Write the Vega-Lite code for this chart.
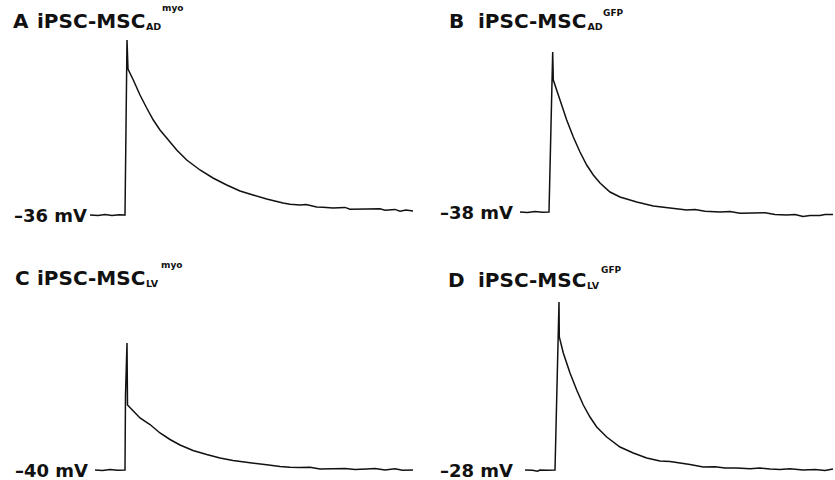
{
  "$schema": "https://vega.github.io/schema/vega-lite/v6.json",
  "padding": 0,
  "spacing": 0,
  "background": "white",
  "config": {"view": {"stroke": null}, "concat": {"spacing": 0}},
  "datasets": {
    "rows": [
      {"panel": "A", "kind": "trace", "t": 180, "v": -36},
      {"panel": "A", "kind": "trace", "t": 196, "v": -36.1},
      {"panel": "A", "kind": "trace", "t": 210, "v": -35.9},
      {"panel": "A", "kind": "trace", "t": 224, "v": -36.1},
      {"panel": "A", "kind": "trace", "t": 238, "v": -35.95},
      {"panel": "A", "kind": "trace", "t": 250, "v": -36},
      {"panel": "A", "kind": "trace", "t": 254, "v": 7.75},
      {"panel": "A", "kind": "trace", "t": 256, "v": 0.5},
      {"panel": "A", "kind": "trace", "t": 266.6, "v": -2.25},
      {"panel": "A", "kind": "trace", "t": 280, "v": -6},
      {"panel": "A", "kind": "trace", "t": 293.4, "v": -9.25},
      {"panel": "A", "kind": "trace", "t": 306.6, "v": -12.25},
      {"panel": "A", "kind": "trace", "t": 320, "v": -14.75},
      {"panel": "A", "kind": "trace", "t": 333.4, "v": -16.75},
      {"panel": "A", "kind": "trace", "t": 353.4, "v": -19.75},
      {"panel": "A", "kind": "trace", "t": 373.4, "v": -22.25},
      {"panel": "A", "kind": "trace", "t": 400, "v": -24.75},
      {"panel": "A", "kind": "trace", "t": 426, "v": -26.75},
      {"panel": "A", "kind": "trace", "t": 453.4, "v": -28.5},
      {"panel": "A", "kind": "trace", "t": 480, "v": -30},
      {"panel": "A", "kind": "trace", "t": 506, "v": -31},
      {"panel": "A", "kind": "trace", "t": 533.4, "v": -32},
      {"panel": "A", "kind": "trace", "t": 566, "v": -33},
      {"panel": "A", "kind": "trace", "t": 580, "v": -33.3},
      {"panel": "A", "kind": "trace", "t": 600, "v": -33.5},
      {"panel": "A", "kind": "trace", "t": 612, "v": -33.4},
      {"panel": "A", "kind": "trace", "t": 633.4, "v": -34},
      {"panel": "A", "kind": "trace", "t": 646, "v": -34.05},
      {"panel": "A", "kind": "trace", "t": 666, "v": -34.25},
      {"panel": "A", "kind": "trace", "t": 690, "v": -34.1},
      {"panel": "A", "kind": "trace", "t": 700, "v": -34.55},
      {"panel": "A", "kind": "trace", "t": 733.4, "v": -34.5},
      {"panel": "A", "kind": "trace", "t": 760, "v": -34.45},
      {"panel": "A", "kind": "trace", "t": 770, "v": -34.8},
      {"panel": "A", "kind": "trace", "t": 790, "v": -34.6},
      {"panel": "A", "kind": "trace", "t": 800, "v": -35.05},
      {"panel": "A", "kind": "trace", "t": 812, "v": -34.75},
      {"panel": "A", "kind": "trace", "t": 826, "v": -35},
      {"panel": "A", "kind": "main", "t": 26, "v": 10.75, "text": "A"},
      {"panel": "A", "kind": "main", "t": 74, "v": 10.75, "text": "iPSC-MSC"},
      {"panel": "A", "kind": "sub", "t": 292, "v": 10.375, "text": "AD"},
      {"panel": "A", "kind": "sup", "t": 324, "v": 15.125, "text": "myo"},
      {"panel": "A", "kind": "label", "t": 28, "v": -37.65, "text": "–36 mV"},

      {"panel": "B", "kind": "trace", "t": 180, "v": -38},
      {"panel": "B", "kind": "trace", "t": 195, "v": -38.1},
      {"panel": "B", "kind": "trace", "t": 210, "v": -37.9},
      {"panel": "B", "kind": "trace", "t": 225, "v": -38.05},
      {"panel": "B", "kind": "trace", "t": 238, "v": -38},
      {"panel": "B", "kind": "trace", "t": 245.4, "v": 2},
      {"panel": "B", "kind": "trace", "t": 246.6, "v": -5},
      {"panel": "B", "kind": "trace", "t": 260, "v": -10},
      {"panel": "B", "kind": "trace", "t": 273.4, "v": -15},
      {"panel": "B", "kind": "trace", "t": 286.6, "v": -19.25},
      {"panel": "B", "kind": "trace", "t": 300, "v": -23},
      {"panel": "B", "kind": "trace", "t": 313.4, "v": -26.25},
      {"panel": "B", "kind": "trace", "t": 326.6, "v": -28.75},
      {"panel": "B", "kind": "trace", "t": 340, "v": -30.75},
      {"panel": "B", "kind": "trace", "t": 360, "v": -33},
      {"panel": "B", "kind": "trace", "t": 380, "v": -34.25},
      {"panel": "B", "kind": "trace", "t": 413.4, "v": -35.5},
      {"panel": "B", "kind": "trace", "t": 446.6, "v": -36.5},
      {"panel": "B", "kind": "trace", "t": 480, "v": -37},
      {"panel": "B", "kind": "trace", "t": 513.4, "v": -37.5},
      {"panel": "B", "kind": "trace", "t": 530, "v": -37.4},
      {"panel": "B", "kind": "trace", "t": 550, "v": -37.8},
      {"panel": "B", "kind": "trace", "t": 580, "v": -38},
      {"panel": "B", "kind": "trace", "t": 600, "v": -37.9},
      {"panel": "B", "kind": "trace", "t": 620, "v": -38.3},
      {"panel": "B", "kind": "trace", "t": 646, "v": -38.25},
      {"panel": "B", "kind": "trace", "t": 670, "v": -38.2},
      {"panel": "B", "kind": "trace", "t": 690, "v": -38.6},
      {"panel": "B", "kind": "trace", "t": 713.4, "v": -38.75},
      {"panel": "B", "kind": "trace", "t": 730, "v": -38.6},
      {"panel": "B", "kind": "trace", "t": 746, "v": -39.1},
      {"panel": "B", "kind": "trace", "t": 760, "v": -38.9},
      {"panel": "B", "kind": "trace", "t": 780, "v": -38.9},
      {"panel": "B", "kind": "trace", "t": 790, "v": -38.6},
      {"panel": "B", "kind": "trace", "t": 806, "v": -38.6},
      {"panel": "B", "kind": "main", "t": 38, "v": 8, "text": "B"},
      {"panel": "B", "kind": "main", "t": 96, "v": 8, "text": "iPSC-MSC"},
      {"panel": "B", "kind": "sub", "t": 315, "v": 7.5, "text": "AD"},
      {"panel": "B", "kind": "sup", "t": 346, "v": 11, "text": "GFP"},
      {"panel": "B", "kind": "label", "t": 20, "v": -39.65, "text": "–38 mV"},

      {"panel": "C", "kind": "trace", "t": 190, "v": -40},
      {"panel": "C", "kind": "trace", "t": 205, "v": -40.1},
      {"panel": "C", "kind": "trace", "t": 220, "v": -39.9},
      {"panel": "C", "kind": "trace", "t": 235, "v": -40.05},
      {"panel": "C", "kind": "trace", "t": 250, "v": -40},
      {"panel": "C", "kind": "trace", "t": 251, "v": -21.25},
      {"panel": "C", "kind": "trace", "t": 254, "v": -8.25},
      {"panel": "C", "kind": "trace", "t": 255, "v": -23.75},
      {"panel": "C", "kind": "trace", "t": 266.6, "v": -25.25},
      {"panel": "C", "kind": "trace", "t": 280, "v": -27},
      {"panel": "C", "kind": "trace", "t": 300, "v": -28.625},
      {"panel": "C", "kind": "trace", "t": 320, "v": -30.75},
      {"panel": "C", "kind": "trace", "t": 340, "v": -32.375},
      {"panel": "C", "kind": "trace", "t": 360, "v": -33.75},
      {"panel": "C", "kind": "trace", "t": 386, "v": -35.125},
      {"panel": "C", "kind": "trace", "t": 413.4, "v": -36.125},
      {"panel": "C", "kind": "trace", "t": 440, "v": -37},
      {"panel": "C", "kind": "trace", "t": 466, "v": -37.625},
      {"panel": "C", "kind": "trace", "t": 500, "v": -38.2},
      {"panel": "C", "kind": "trace", "t": 533.4, "v": -38.7},
      {"panel": "C", "kind": "trace", "t": 560, "v": -39.1},
      {"panel": "C", "kind": "trace", "t": 580, "v": -39.3},
      {"panel": "C", "kind": "trace", "t": 600, "v": -39.35},
      {"panel": "C", "kind": "trace", "t": 620, "v": -39.3},
      {"panel": "C", "kind": "trace", "t": 640, "v": -39.75},
      {"panel": "C", "kind": "trace", "t": 666, "v": -39.7},
      {"panel": "C", "kind": "trace", "t": 690, "v": -39.6},
      {"panel": "C", "kind": "trace", "t": 710, "v": -39.9},
      {"panel": "C", "kind": "trace", "t": 733.4, "v": -39.75},
      {"panel": "C", "kind": "trace", "t": 750, "v": -39.6},
      {"panel": "C", "kind": "trace", "t": 770, "v": -40},
      {"panel": "C", "kind": "trace", "t": 790, "v": -39.7},
      {"panel": "C", "kind": "trace", "t": 805, "v": -40.05},
      {"panel": "C", "kind": "trace", "t": 826, "v": -40},
      {"panel": "C", "kind": "main", "t": 30, "v": 6.25, "text": "C"},
      {"panel": "C", "kind": "main", "t": 74, "v": 6.25, "text": "iPSC-MSC"},
      {"panel": "C", "kind": "sub", "t": 292, "v": 5.875, "text": "LV"},
      {"panel": "C", "kind": "sup", "t": 322, "v": 10.625, "text": "myo"},
      {"panel": "C", "kind": "label", "t": 30, "v": -41.65, "text": "–40 mV"},

      {"panel": "D", "kind": "trace", "t": 190, "v": -28},
      {"panel": "D", "kind": "trace", "t": 205, "v": -28.05},
      {"panel": "D", "kind": "trace", "t": 215, "v": -28.3},
      {"panel": "D", "kind": "trace", "t": 220, "v": -28},
      {"panel": "D", "kind": "trace", "t": 235, "v": -28.05},
      {"panel": "D", "kind": "trace", "t": 250, "v": -28},
      {"panel": "D", "kind": "trace", "t": 258, "v": 14},
      {"panel": "D", "kind": "trace", "t": 258.6, "v": 5.25},
      {"panel": "D", "kind": "trace", "t": 266.6, "v": 1.25},
      {"panel": "D", "kind": "trace", "t": 280, "v": -3.75},
      {"panel": "D", "kind": "trace", "t": 293.4, "v": -8},
      {"panel": "D", "kind": "trace", "t": 306.6, "v": -11.75},
      {"panel": "D", "kind": "trace", "t": 320, "v": -14.75},
      {"panel": "D", "kind": "trace", "t": 333.4, "v": -17.25},
      {"panel": "D", "kind": "trace", "t": 353.4, "v": -19.75},
      {"panel": "D", "kind": "trace", "t": 380, "v": -22.25},
      {"panel": "D", "kind": "trace", "t": 406.6, "v": -23.75},
      {"panel": "D", "kind": "trace", "t": 433.4, "v": -25},
      {"panel": "D", "kind": "trace", "t": 460, "v": -25.75},
      {"panel": "D", "kind": "trace", "t": 480, "v": -25.9},
      {"panel": "D", "kind": "trace", "t": 500, "v": -26.25},
      {"panel": "D", "kind": "trace", "t": 520, "v": -26.6},
      {"panel": "D", "kind": "trace", "t": 546.6, "v": -27.25},
      {"panel": "D", "kind": "trace", "t": 570, "v": -27.2},
      {"panel": "D", "kind": "trace", "t": 590, "v": -27.5},
      {"panel": "D", "kind": "trace", "t": 613.4, "v": -27.5},
      {"panel": "D", "kind": "trace", "t": 640, "v": -27.7},
      {"panel": "D", "kind": "trace", "t": 660, "v": -27.5},
      {"panel": "D", "kind": "trace", "t": 680, "v": -27.75},
      {"panel": "D", "kind": "trace", "t": 700, "v": -27.9},
      {"panel": "D", "kind": "trace", "t": 720, "v": -27.7},
      {"panel": "D", "kind": "trace", "t": 746, "v": -28},
      {"panel": "D", "kind": "trace", "t": 770, "v": -27.9},
      {"panel": "D", "kind": "trace", "t": 790, "v": -28.1},
      {"panel": "D", "kind": "trace", "t": 806, "v": -27.75},
      {"panel": "D", "kind": "main", "t": 36, "v": 17.875, "text": "D"},
      {"panel": "D", "kind": "main", "t": 96, "v": 17.875, "text": "iPSC-MSC"},
      {"panel": "D", "kind": "sub", "t": 314, "v": 17.375, "text": "LV"},
      {"panel": "D", "kind": "sup", "t": 342, "v": 21.25, "text": "GFP"},
      {"panel": "D", "kind": "label", "t": 20, "v": -29.65, "text": "–28 mV"}
    ]
  },
  "vconcat": [
    {
      "spacing": 0,
      "hconcat": [
        {
          "width": 430, "height": 240,
          "data": {"name": "rows"},
          "transform": [{"filter": "datum.panel === 'A'"}],
          "encoding": {
            "x": {"field": "t", "type": "quantitative", "scale": {"domain": [0, 860]}, "axis": null},
            "y": {"field": "v", "type": "quantitative", "scale": {"domain": [-42.25, 17.75]}, "axis": null}
          },
          "layer": [
            {"transform": [{"filter": "datum.kind === 'trace'"}], "mark": {"type": "line", "color": "#111111", "strokeWidth": 1.5}},
            {"transform": [{"filter": "datum.kind === 'main'"}], "mark": {"type": "text", "font": "DejaVu Sans", "fontWeight": "bold", "fontSize": 20, "align": "left", "baseline": "alphabetic", "color": "#111111"}, "encoding": {"text": {"field": "text"}}},
            {"transform": [{"filter": "datum.kind === 'sub'"}], "mark": {"type": "text", "font": "DejaVu Sans", "fontWeight": "bold", "fontSize": 9.5, "align": "left", "baseline": "alphabetic", "color": "#111111"}, "encoding": {"text": {"field": "text"}}},
            {"transform": [{"filter": "datum.kind === 'sup'"}], "mark": {"type": "text", "font": "DejaVu Sans", "fontWeight": "bold", "fontSize": 9, "align": "left", "baseline": "alphabetic", "color": "#111111"}, "encoding": {"text": {"field": "text"}}},
            {"transform": [{"filter": "datum.kind === 'label'"}], "mark": {"type": "text", "font": "DejaVu Sans", "fontWeight": "bold", "fontSize": 18, "align": "left", "baseline": "alphabetic", "color": "#111111"}, "encoding": {"text": {"field": "text"}}}
          ]
        },
        {
          "width": 405, "height": 240,
          "data": {"name": "rows"},
          "transform": [{"filter": "datum.panel === 'B'"}],
          "encoding": {
            "x": {"field": "t", "type": "quantitative", "scale": {"domain": [0, 810]}, "axis": null},
            "y": {"field": "v", "type": "quantitative", "scale": {"domain": [-45, 15]}, "axis": null}
          },
          "layer": [
            {"transform": [{"filter": "datum.kind === 'trace'"}], "mark": {"type": "line", "color": "#111111", "strokeWidth": 1.5}},
            {"transform": [{"filter": "datum.kind === 'main'"}], "mark": {"type": "text", "font": "DejaVu Sans", "fontWeight": "bold", "fontSize": 20, "align": "left", "baseline": "alphabetic", "color": "#111111"}, "encoding": {"text": {"field": "text"}}},
            {"transform": [{"filter": "datum.kind === 'sub'"}], "mark": {"type": "text", "font": "DejaVu Sans", "fontWeight": "bold", "fontSize": 9.5, "align": "left", "baseline": "alphabetic", "color": "#111111"}, "encoding": {"text": {"field": "text"}}},
            {"transform": [{"filter": "datum.kind === 'sup'"}], "mark": {"type": "text", "font": "DejaVu Sans", "fontWeight": "bold", "fontSize": 9, "align": "left", "baseline": "alphabetic", "color": "#111111"}, "encoding": {"text": {"field": "text"}}},
            {"transform": [{"filter": "datum.kind === 'label'"}], "mark": {"type": "text", "font": "DejaVu Sans", "fontWeight": "bold", "fontSize": 18, "align": "left", "baseline": "alphabetic", "color": "#111111"}, "encoding": {"text": {"field": "text"}}}
          ]
        }
      ]
    },
    {
      "spacing": 0,
      "hconcat": [
        {
          "width": 430, "height": 240,
          "data": {"name": "rows"},
          "transform": [{"filter": "datum.panel === 'C'"}],
          "encoding": {
            "x": {"field": "t", "type": "quantitative", "scale": {"domain": [0, 860]}, "axis": null},
            "y": {"field": "v", "type": "quantitative", "scale": {"domain": [-42.5, 17.5]}, "axis": null}
          },
          "layer": [
            {"transform": [{"filter": "datum.kind === 'trace'"}], "mark": {"type": "line", "color": "#111111", "strokeWidth": 1.5}},
            {"transform": [{"filter": "datum.kind === 'main'"}], "mark": {"type": "text", "font": "DejaVu Sans", "fontWeight": "bold", "fontSize": 20, "align": "left", "baseline": "alphabetic", "color": "#111111"}, "encoding": {"text": {"field": "text"}}},
            {"transform": [{"filter": "datum.kind === 'sub'"}], "mark": {"type": "text", "font": "DejaVu Sans", "fontWeight": "bold", "fontSize": 9.5, "align": "left", "baseline": "alphabetic", "color": "#111111"}, "encoding": {"text": {"field": "text"}}},
            {"transform": [{"filter": "datum.kind === 'sup'"}], "mark": {"type": "text", "font": "DejaVu Sans", "fontWeight": "bold", "fontSize": 9, "align": "left", "baseline": "alphabetic", "color": "#111111"}, "encoding": {"text": {"field": "text"}}},
            {"transform": [{"filter": "datum.kind === 'label'"}], "mark": {"type": "text", "font": "DejaVu Sans", "fontWeight": "bold", "fontSize": 18, "align": "left", "baseline": "alphabetic", "color": "#111111"}, "encoding": {"text": {"field": "text"}}}
          ]
        },
        {
          "width": 405, "height": 240,
          "data": {"name": "rows"},
          "transform": [{"filter": "datum.panel === 'D'"}],
          "encoding": {
            "x": {"field": "t", "type": "quantitative", "scale": {"domain": [0, 810]}, "axis": null},
            "y": {"field": "v", "type": "quantitative", "scale": {"domain": [-30.5, 29.5]}, "axis": null}
          },
          "layer": [
            {"transform": [{"filter": "datum.kind === 'trace'"}], "mark": {"type": "line", "color": "#111111", "strokeWidth": 1.5}},
            {"transform": [{"filter": "datum.kind === 'main'"}], "mark": {"type": "text", "font": "DejaVu Sans", "fontWeight": "bold", "fontSize": 20, "align": "left", "baseline": "alphabetic", "color": "#111111"}, "encoding": {"text": {"field": "text"}}},
            {"transform": [{"filter": "datum.kind === 'sub'"}], "mark": {"type": "text", "font": "DejaVu Sans", "fontWeight": "bold", "fontSize": 9.5, "align": "left", "baseline": "alphabetic", "color": "#111111"}, "encoding": {"text": {"field": "text"}}},
            {"transform": [{"filter": "datum.kind === 'sup'"}], "mark": {"type": "text", "font": "DejaVu Sans", "fontWeight": "bold", "fontSize": 9, "align": "left", "baseline": "alphabetic", "color": "#111111"}, "encoding": {"text": {"field": "text"}}},
            {"transform": [{"filter": "datum.kind === 'label'"}], "mark": {"type": "text", "font": "DejaVu Sans", "fontWeight": "bold", "fontSize": 18, "align": "left", "baseline": "alphabetic", "color": "#111111"}, "encoding": {"text": {"field": "text"}}}
          ]
        }
      ]
    }
  ]
}
